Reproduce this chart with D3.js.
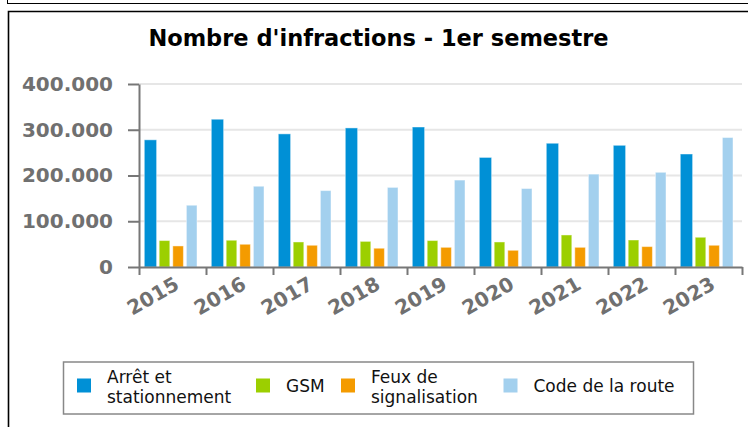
<html>
<head>
  <script src="https://cdnjs.cloudflare.com/ajax/libs/d3/7.8.5/d3.min.js"></script>
  <title>Nombre d'infractions</title>
  <style>
    body { margin: 0; background: #fff; }
    text { font-family: "DejaVu Sans", sans-serif; }
  </style>
</head>
<body>
  <script>
    // values
    const years = ["2015", "2016", "2017", "2018", "2019", "2020", "2021", "2022", "2023"];
    const seriesNames = ["Arrêt et stationnement", "GSM", "Feux de signalisation", "Code de la route"];
    const arret = [278000, 323000, 291000, 304000, 306000, 239500, 270500, 266000, 247000];
    const gsm = [57800, 58500, 54700, 56000, 57800, 54700, 70000, 59000, 65000];
    const feux = [46000, 49700, 47500, 41000, 43000, 36500, 43000, 44600, 47500];
    const code = [135000, 176500, 167000, 174000, 190000, 171500, 203000, 207000, 283000];
    const yTicks = [0, 100000, 200000, 300000, 400000];
    const legendLines = [["Arrêt et", "stationnement"], ["GSM"], ["Feux de", "signalisation"], ["Code de la route"]];

    const colors = ["#0090d6", "#9ccf00", "#f49b00", "#a3d0ee"];
    const allSeries = [arret, gsm, feux, code];

    const w = 748, h = 427;
    const plotL = 139, plotR = 742, plotT = 84, plotB = 267;

    const svg = d3.select("body").append("svg")
      .attr("width", w)
      .attr("height", h);

    // frame bits around the chart
    svg.append("line").attr("x1", 7).attr("x2", w).attr("y1", 3.5).attr("y2", 3.5)
      .attr("stroke", "#000").attr("stroke-width", 1);
    svg.append("line").attr("x1", 7.5).attr("x2", 7.5).attr("y1", 0).attr("y2", 4)
      .attr("stroke", "#000").attr("stroke-width", 1);
    svg.append("path").attr("d", `M8.5,${h}V11.5H${w}`)
      .attr("fill", "none").attr("stroke", "#000").attr("stroke-width", 1.6);

    svg.append("text")
      .attr("x", 378.5).attr("y", 46)
      .attr("text-anchor", "middle")
      .attr("font-size", 22.5).attr("font-weight", "bold")
      .attr("fill", "#000")
      .text("Nombre d'infractions - 1er semestre");

    const x0 = d3.scaleBand().domain(years).range([plotL, plotR]);
    const x1 = d3.scaleBand().domain(d3.range(4)).range([6.6, 58]).paddingInner(0.22);
    const y = d3.scaleLinear().domain([0, 400000]).range([plotB, plotT]);

    const fr = d3.formatLocale({ decimal: ",", thousands: ".", grouping: [3], currency: ["", "€"] });
    const fmt = fr.format(",d");

    // grid
    svg.append("g").selectAll("line")
      .data(yTicks.slice(1))
      .enter().append("line")
      .attr("x1", plotL).attr("x2", plotR)
      .attr("y1", d => y(d)).attr("y2", d => y(d))
      .attr("stroke", "#e6e6e6").attr("stroke-width", 2);

    // bars
    const rows = years.map((yr, i) => allSeries.map((s, k) => ({ yr: yr, k: k, v: s[i] })));
    svg.append("g").selectAll("g")
      .data(rows)
      .enter().append("g")
      .attr("transform", d => "translate(" + x0(d[0].yr) + ",0)")
      .selectAll("rect")
      .data(d => d)
      .enter().append("rect")
      .attr("x", d => x1(d.k) - (d.k === 0 ? 1.3 : 0))
      .attr("width", d => x1.bandwidth() + (d.k === 0 ? 1.7 : 0))
      .attr("y", d => y(d.v))
      .attr("height", d => plotB - y(d.v))
      .attr("fill", d => colors[d.k])
      .attr("stroke", "#fff").attr("stroke-opacity", 0.45).attr("stroke-width", 1);

    // y axis
    const yAxis = svg.append("g")
      .attr("transform", "translate(" + plotL + ",0)")
      .call(d3.axisLeft(y).tickValues(yTicks).tickSize(11).tickSizeOuter(0).tickFormat(fmt).tickPadding(15));

    // x axis, ticks on band edges
    const edge = d3.scaleLinear().domain([0, years.length]).range([plotL, plotR]);
    const xAxis = svg.append("g")
      .attr("transform", "translate(0," + plotB + ")")
      .call(d3.axisBottom(edge).ticks(years.length).tickSize(8).tickSizeOuter(0).tickFormat(""));

    [yAxis, xAxis].forEach(a => {
      a.select(".domain").attr("stroke", "#777").attr("stroke-width", 2);
      a.selectAll(".tick line").attr("stroke", "#777").attr("stroke-width", 2);
      a.selectAll("text")
        .attr("font-family", "DejaVu Sans")
        .attr("font-size", 20).attr("font-weight", "bold")
        .attr("fill", "#707070");
    });

    svg.append("g").selectAll("text")
      .data(years)
      .enter().append("text")
      .attr("transform", d => "translate(" + (x0(d) + x0.bandwidth() / 2 + 8) + ",288) rotate(-30)")
      .attr("text-anchor", "end")
      .attr("font-size", 20).attr("font-weight", "bold")
      .attr("fill", "#707070")
      .text(d => d);

    // legend
    const lg = svg.append("g");
    lg.append("rect")
      .attr("x", 63.5).attr("y", 362).attr("width", 630).attr("height", 52)
      .attr("fill", "#fff").attr("stroke", "#888").attr("stroke-width", 1.5);
    const legX = [77, 256, 341, 503.5];
    const item = lg.selectAll("g.item")
      .data(seriesNames)
      .enter().append("g")
      .attr("class", "item")
      .attr("transform", (d, i) => "translate(" + legX[i] + ",0)");
    item.append("rect")
      .attr("y", 378.5).attr("width", 14).attr("height", 14)
      .attr("fill", (d, i) => colors[i]);
    item.append("text")
      .attr("font-size", 17).attr("fill", "#111")
      .each(function (d, i) {
        const lines = legendLines[i];
        const t = d3.select(this);
        lines.forEach((ln, j) => {
          t.append("tspan")
            .attr("x", 30)
            .attr("y", lines.length === 1 ? 391.5 : 383.3 + j * 19.4)
            .text(ln);
        });
      });
  </script>
</body>
</html>
